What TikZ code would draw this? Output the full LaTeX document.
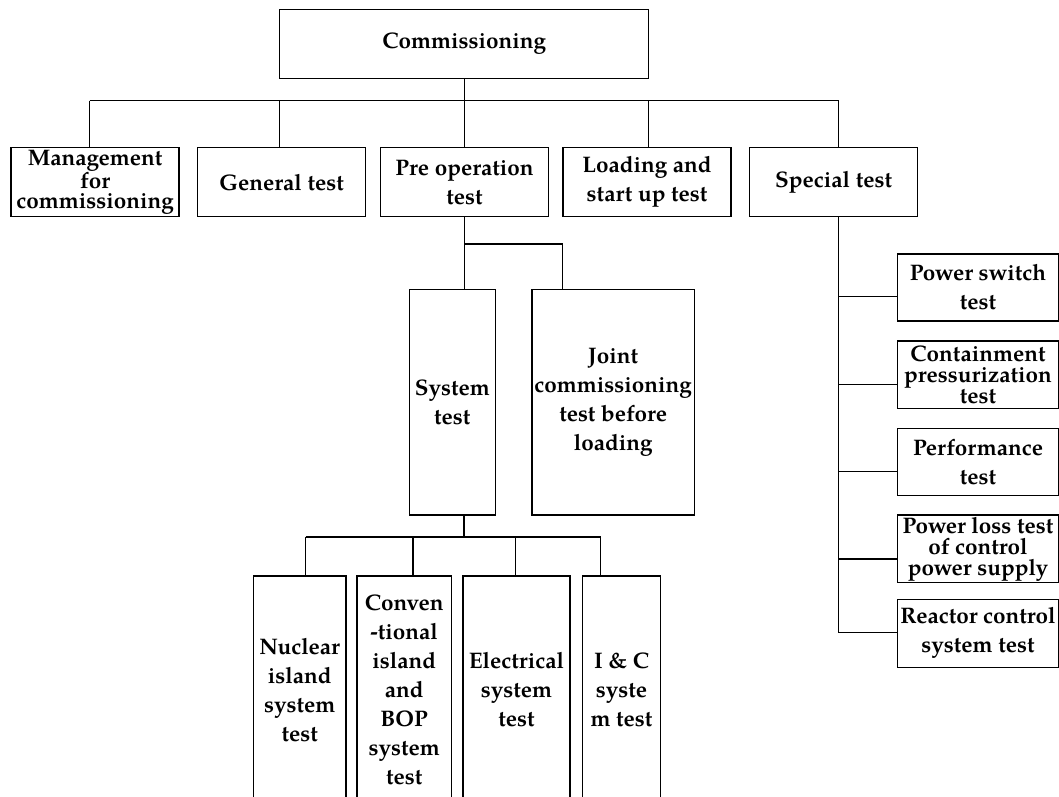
\documentclass[tikz,border=0pt]{standalone}
\usepackage{fontspec}
\setmainfont{TeX Gyre Pagella}
\tikzset{
  box/.style={draw, line width=1.3pt, inner sep=0pt, align=center,
    font=\fontsize{22.5}{29}\selectfont\bfseries},
  tight/.style={font=\fontsize{22.5}{21}\selectfont\bfseries},
  tighter/.style={font=\fontsize{22.5}{20.5}\selectfont\bfseries},
  conn/.style={line width=1.3pt}
}
\begin{document}
\begin{tikzpicture}[x=1pt,y=-1pt]
\useasboundingbox (0,0) rectangle (1059,796);
\clip (0,0) rectangle (1059,796);
% root
\node[box, minimum width=369pt, minimum height=69pt] (root) at (464.2,43.8) {Commissioning};
% level 1
\node[box, tighter, minimum width=168pt, minimum height=69pt] (m1) at (95.1,182.2) {Management\\for\\commissioning};
\node[box, minimum width=168pt, minimum height=69pt] (m2) at (281.6,182.2) {General test};
\node[box, minimum width=168pt, minimum height=69pt] (m3) at (464.5,182.2) {Pre operation\\test};
\node[box, minimum width=168pt, minimum height=69pt] (m4) at (647,182.2) {Loading and\\start up test};
\node[box, minimum width=168pt, minimum height=69pt] (m5) at (833.6,182.2) {Special test};
% level 2
\node[box, minimum width=86pt, minimum height=225.7pt] (sys) at (452.3,402.2) {System\\test};
\node[box, minimum width=162.3pt, minimum height=225.7pt] (joint) at (613.2,402.2) {Joint\\commissioning\\test before\\loading};
% level 3
\node[box, minimum width=92.7pt, minimum height=228pt] (n1) at (299.7,690) {Nuclear\\island\\system\\test};
\node[box, minimum width=94.3pt, minimum height=228pt] (n2) at (404.2,690) {Conven\\-tional\\island\\and\\BOP\\system\\test};
\node[box, minimum width=107pt, minimum height=228pt] (n3) at (516.5,690) {Electrical\\system\\test};
\node[box, minimum width=77.6pt, minimum height=228pt] (n4) at (621.5,690) {I \& C\\syste\\m test};
% special tests
\node[box, minimum width=160.6pt, minimum height=67pt] (r1) at (978,287.5) {Power switch\\test};
\node[box, tight, minimum width=160.6pt, minimum height=67.3pt] (r2) at (978,374.7) {Containment\\pressurization\\test};
\node[box, minimum width=160.6pt, minimum height=67.4pt] (r3) at (978,462) {Performance\\test};
\node[box, tight, minimum width=160.6pt, minimum height=67.7pt] (r4) at (978,548.9) {Power loss test\\of control\\power supply};
\node[box, minimum width=160.6pt, minimum height=68pt] (r5) at (978,633.3) {Reactor control\\system test};
% bus of level 1
\coordinate (b1) at (89.6,100.5);
\coordinate (b2) at (279.6,100.5);
\coordinate (b3) at (464.5,100.5);
\coordinate (b4) at (648.8,100.5);
\coordinate (b5) at (838.7,100.5);
\draw[conn] (root.south) -- (root.south |- b1);
\draw[conn] (b1) -- (b5);
\draw[conn] (b1) -- (b1 |- m1.north);
\draw[conn] (b2) -- (b2 |- m2.north);
\draw[conn] (b3) -- (b3 |- m3.north);
\draw[conn] (b4) -- (b4 |- m4.north);
\draw[conn] (b5) -- (b5 |- m5.north);
% pre operation branch
\coordinate (p1) at (464.3,244);
\coordinate (p2) at (562.7,244);
\draw[conn] (m3.south -| p1) -- (p1) -- (p2) -- (p2 |- joint.north);
\draw[conn] (p1) -- (p1 |- sys.north);
% system test branch
\coordinate (s0) at (464,537);
\coordinate (s1) at (305.7,537);
\coordinate (s2) at (413,537);
\coordinate (s3) at (515.3,537);
\coordinate (s4) at (600.7,537);
\draw[conn] (sys.south -| s0) -- (s0);
\draw[conn] (s1) -- (s4);
\draw[conn] (s1) -- (s1 |- n1.north);
\draw[conn] (s2) -- (s2 |- n2.north);
\draw[conn] (s3) -- (s3 |- n3.north);
\draw[conn] (s4) -- (s4 |- n4.north);
% special test branch
\coordinate (c1) at (838.7,296.7);
\coordinate (c2) at (838.7,384.3);
\coordinate (c3) at (838.7,471.7);
\coordinate (c4) at (838.7,559);
\coordinate (c5) at (838.7,632.7);
\draw[conn] (m5.south -| c1) -- (c5);
\draw[conn] (c1) -- (c1 -| r1.west);
\draw[conn] (c2) -- (c2 -| r2.west);
\draw[conn] (c3) -- (c3 -| r3.west);
\draw[conn] (c4) -- (c4 -| r4.west);
\draw[conn] (c5) -- (c5 -| r5.west);
\end{tikzpicture}
\end{document}
